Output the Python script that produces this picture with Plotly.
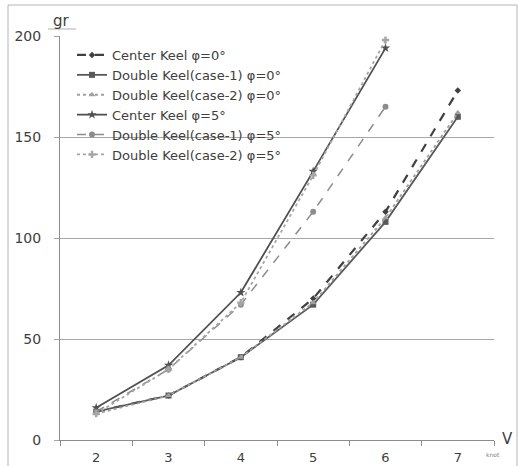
import plotly.graph_objects as go

speeds = ["2", "3", "4", "5", "6", "7"]
center_keel_0 = [14, 22, 41, 70, 113, 173]
double_keel1_0 = [14, 22, 41, 67, 108, 160]
double_keel2_0 = [13, 22, 41, 68, 110, 162]
center_keel_5 = [16, 37, 73, 133, 194, None]
double_keel1_5 = [14, 35, 67, 113, 165, None]
double_keel2_5 = [13, 35, 68, 131, 198, None]
y_ticks = [0, 50, 100, 150, 200]

series = [
    ("Center Keel φ=0°", center_keel_0, "#404040", "dash", "diamond", 5, 2.2),
    ("Double Keel(case-1) φ=0°", double_keel1_0, "#595959", "solid", "square", 6, 1.8),
    ("Double Keel(case-2) φ=0°", double_keel2_0, "#a0a0a0", "dot", "triangle-up", 6, 1.8),
    ("Center Keel φ=5°", center_keel_5, "#505050", "solid", "star", 7, 1.8),
    ("Double Keel(case-1) φ=5°", double_keel1_5, "#8c8c8c", "dash", "circle", 6, 1.5),
    ("Double Keel(case-2) φ=5°", double_keel2_5, "#a6a6a6", "dot", "cross", 6, 1.8),
]

fig = go.Figure()
for name, vals, color, dash, sym, size, width in series:
    fig.add_trace(go.Scatter(
        x=speeds, y=vals, name=name, mode="lines+markers",
        line=dict(color=color, dash=dash, width=width),
        marker=dict(symbol=sym, size=size, color=color),
    ))

L, R, T, B = 60, 25, 36, 26
W, H = 519, 466
pw, ph = W - L - R, H - T - B

def px(x):
    return (x - L) / pw

def py(y):
    return (H - B - y) / ph

font_color = "#404040"
fam = "DejaVu Sans"
fig.update_layout(
    width=W, height=H,
    margin=dict(l=L, r=R, t=T, b=B),
    paper_bgcolor="white", plot_bgcolor="white",
    font=dict(family=fam, color=font_color, size=13),
    showlegend=True,
    legend=dict(x=px(72), y=py(40), xanchor="left", yanchor="top",
                bgcolor="rgba(0,0,0,0)", font=dict(family=fam, size=13, color=font_color),
                tracegroupgap=0),
    xaxis=dict(type="category", categoryorder="array", categoryarray=speeds,
               range=[-0.5, 5.5], showgrid=False, showline=True, automargin=False,
               linecolor="#8c8c8c", linewidth=1, ticks="outside",
               tickson="boundaries", ticklen=5, tickcolor="#8c8c8c",
               ticklabelstandoff=5,
               tickfont=dict(family=fam, size=13, color=font_color)),
    yaxis=dict(range=[0, 200], tickvals=y_ticks, showgrid=True, automargin=False,
               gridcolor="#a6a6a6", gridwidth=1, showline=True,
               linecolor="#8c8c8c", ticks="outside", ticklen=5,
               tickcolor="#a6a6a6", zeroline=False, ticklabelstandoff=10,
               tickfont=dict(family=fam, size=14, color=font_color)),
    shapes=[
        dict(type="rect", xref="paper", yref="paper",
             x0=px(8), x1=px(517), y0=py(470), y1=py(5),
             line=dict(color="#b4b4b4", width=1), layer="below"),
        dict(type="line", xref="paper", yref="paper",
             x0=px(48), x1=px(76), y0=py(29), y1=py(29),
             line=dict(color="#b0b0b0", width=1)),
    ],
    annotations=[
        dict(text="gr", xref="paper", yref="paper", x=px(61), y=py(21),
             xanchor="center", yanchor="middle",
             showarrow=False, font=dict(family=fam, size=15, color=font_color)),
        dict(text="V", xref="paper", yref="paper", x=px(507), y=py(439),
             xanchor="center", yanchor="middle",
             showarrow=False, font=dict(family=fam, size=15, color=font_color)),
        dict(text="knot", xref="paper", yref="paper", x=px(493), y=py(454),
             xanchor="center", yanchor="middle",
             showarrow=False, font=dict(family=fam, size=6, color="#808080")),
    ],
)

fig.write_html("out.html", config={"displayModeBar": False},
               post_script="document.body.style.margin='0';")
